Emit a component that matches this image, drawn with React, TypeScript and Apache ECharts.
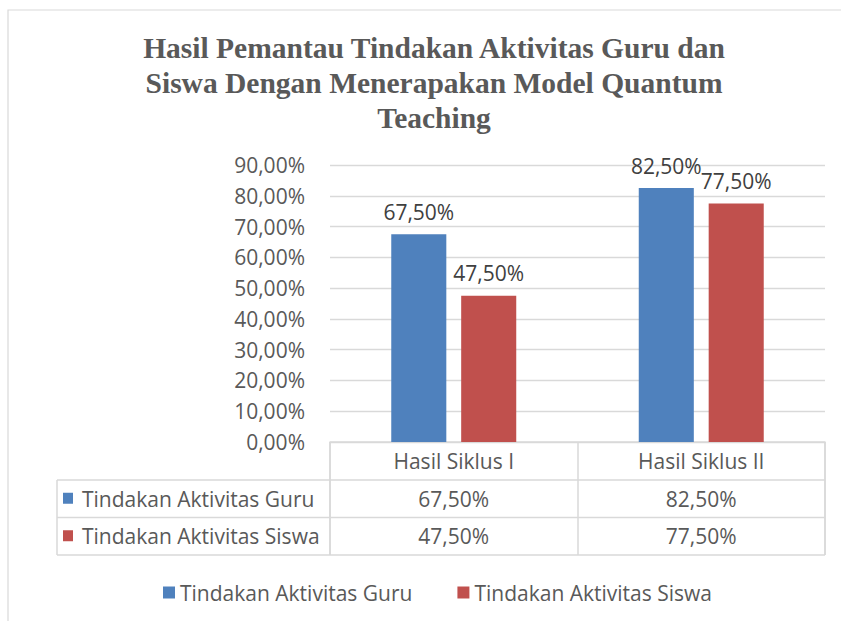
import React, { useEffect, useRef } from 'react';
import * as echarts from 'echarts';

const titleLines = [
  'Hasil Pemantau Tindakan Aktivitas Guru dan',
  'Siswa Dengan Menerapakan Model Quantum',
  'Teaching',
];
const categories = ['Hasil Siklus I', 'Hasil Siklus II'];
const seriesNames = ['Tindakan Aktivitas Guru', 'Tindakan Aktivitas Siswa'];
const guruValues = [67.5, 82.5];
const siswaValues = [47.5, 77.5];
const yMin = 0;
const yMax = 90;
const yInterval = 10;
const colors = ['#4f81bd', '#c0504d'];

const fmt = (v: number) => v.toFixed(2).replace('.', ',') + '%';

const FONT = '"Open Sans", "Noto Sans", sans-serif';
const FS = 21;
const GRID = { left: 330, right: 16, top: 165, bottom: 179 };
const W = 841;
const H = 621;

export default function App() {
  const ref = useRef<HTMLDivElement>(null);

  useEffect(() => {
    if (!ref.current) return;
    const chart = echarts.init(ref.current, undefined, { renderer: 'svg' });
    const allSeries = [guruValues, siswaValues];
    chart.setOption({
      animation: false,
      backgroundColor: '#ffffff',
      color: colors,
      grid: { ...GRID, containLabel: false },
      legend: {
        top: 577,
        left: 158,
        itemWidth: 12,
        itemHeight: 12,
        itemGap: 45,
        icon: 'rect',
        data: seriesNames,
        textStyle: { fontSize: FS, color: '#595959', fontFamily: FONT },
      },
      xAxis: {
        type: 'category',
        data: categories,
        axisLine: { show: true, lineStyle: { color: '#d9d9d9', width: 1.5 } },
        axisTick: { show: true, length: 113, lineStyle: { color: '#d9d9d9', width: 1.5 } },
        axisLabel: { margin: 8, fontSize: FS, color: '#595959', fontFamily: FONT },
      },
      yAxis: {
        type: 'value',
        min: yMin,
        max: yMax,
        interval: yInterval,
        axisLine: { show: false },
        axisTick: { show: false },
        axisLabel: {
          margin: 25,
          fontSize: FS,
          color: '#595959',
          fontFamily: FONT,
          formatter: (v: number) => fmt(v),
        },
        splitLine: { lineStyle: { color: '#d9d9d9', width: 1.3 } },
      },
      series: allSeries.map((vals, i) => ({
        name: seriesNames[i],
        type: 'bar',
        data: vals,
        barCategoryGap: '49.5%',
        barGap: '27%',
        itemStyle: { color: colors[i] },
        label: {
          show: true,
          position: 'top',
          distance: 12,
          fontSize: FS,
          color: '#404040',
          fontFamily: FONT,
          formatter: (p: any) => fmt(p.value),
        },
      })),
    });

    // data table below the axis
    const plotLeft = GRID.left;
    const plotRight = W - GRID.right;
    const baseY = H - GRID.bottom;
    const headerBottom = baseY + 38;
    const rowH = 37.5;
    const tableLeft = 57;
    const line = (x1: number, y1: number, x2: number, y2: number) => ({
      type: 'line',
      shape: { x1, y1, x2, y2 },
      style: { stroke: '#d9d9d9', lineWidth: 1.5 },
      silent: true,
    });
    const g: any[] = [];
    g.push({
      type: 'rect',
      shape: { x: 8, y: 10, width: 900, height: 700 },
      style: { fill: 'none', stroke: '#d9d9d9', lineWidth: 1.2 },
      silent: true,
    });
    titleLines.forEach((t, i) => {
      g.push({
        type: 'text',
        x: 434,
        y: 48 + i * 35,
        style: {
          text: t,
          align: 'center',
          verticalAlign: 'middle',
          fontFamily: '"Liberation Serif", "Times New Roman", serif',
          fontWeight: 'bold',
          fontSize: 29.5,
          fill: '#595959',
        },
      });
    });
    for (let r = 0; r <= allSeries.length; r++) {
      const y = headerBottom + r * rowH;
      g.push(line(tableLeft, y, plotRight, y));
    }
    g.push(line(tableLeft, headerBottom, tableLeft, headerBottom + allSeries.length * rowH));
    g.push(line(plotLeft, baseY, plotLeft, headerBottom + allSeries.length * rowH));
    g.push(line(plotRight, baseY, plotRight, headerBottom + allSeries.length * rowH));
    allSeries.forEach((vals, r) => {
      const cy = headerBottom + r * rowH + rowH / 2;
      g.push({
        type: 'rect',
        shape: { x: 63, y: cy - 6, width: 10, height: 11 },
        style: { fill: colors[r] },
      });
      g.push({
        type: 'text',
        x: 82,
        y: cy,
        style: {
          text: seriesNames[r],
          align: 'left',
          verticalAlign: 'middle',
          fontSize: FS,
          fontFamily: FONT,
          fill: '#595959',
        },
      });
      vals.forEach((v, c) => {
        const cx = chart.convertToPixel({ xAxisIndex: 0 }, c) as number;
        g.push({
          type: 'text',
          x: cx,
          y: cy,
          style: {
            text: fmt(v),
            align: 'center',
            verticalAlign: 'middle',
            fontSize: FS,
            fontFamily: FONT,
            fill: '#595959',
          },
        });
      });
    });
    chart.setOption({ graphic: g });

    return () => chart.dispose();
  }, []);

  return (
    <div
      ref={ref}
      style={{ position: 'absolute', left: 0, top: 0, width: W, height: H }}
    />
  );
}
